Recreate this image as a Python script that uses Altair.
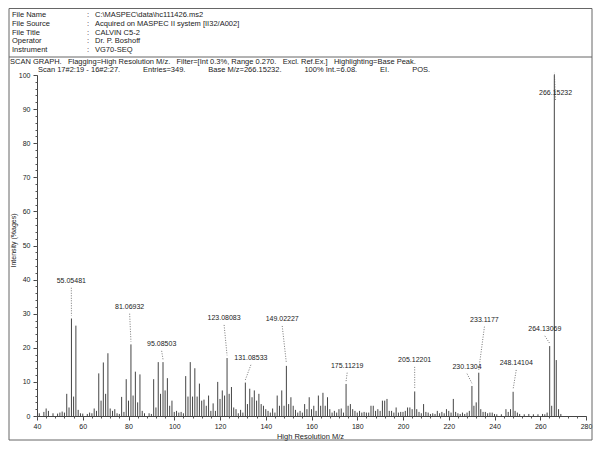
import altair as alt
import pandas as pd

# ---------------- data ----------------
mz = [41, 43, 44, 45, 47, 49, 50, 51, 52, 53, 54, 55.05481, 56, 57, 58, 59, 60, 62, 63, 64,
      65, 66, 67, 68, 69, 70, 71, 72, 73, 74, 75, 76, 77, 78, 79, 80, 81.06932, 82, 83, 84,
      85, 86, 87, 89, 90, 91, 92, 93, 94, 95.08503, 96, 97, 98, 99, 100, 101, 102, 103, 104, 105,
      106, 107, 108, 109, 110, 111, 112, 113, 114, 115, 116, 117, 118, 119, 120, 121, 122, 123.08083, 124, 125,
      126, 127, 128, 129, 130, 131.08533, 132, 133, 134, 135, 136, 137, 138, 139, 140, 141, 142, 143, 144, 145,
      146, 147, 148, 149.02227, 150, 151, 152, 153, 154, 155, 156, 157, 158, 159, 160, 161, 162, 163, 164, 165,
      166, 167, 168, 169, 170, 171, 172, 173, 174, 175.11219, 176, 177, 178, 179, 180, 181, 182, 183, 184, 185,
      186, 187, 188, 189, 190, 191, 192, 193, 194, 195, 196, 197, 198, 199, 200, 201, 202, 203, 204, 205.12201,
      206, 207, 208, 209, 210, 211, 212, 213, 214, 215, 216, 217, 218, 219, 220, 221, 222, 223, 224, 225,
      226, 227, 228, 229, 230.1304, 231, 232, 233.1177, 234, 235, 236, 237, 238, 239, 240, 241, 243, 245, 246, 247,
      248.14104, 249, 250, 251, 253, 255, 257, 259, 261, 262, 263, 264.13069, 265, 266.15232, 267, 268, 269]
intensity = [0.8, 1.2, 2.2, 1.5, 0.8, 0.7, 1.0, 1.3, 1.0, 6.5, 2.5, 28.6, 5.7, 26.5, 1.8, 0.8, 0.7, 0.6, 1.0, 0.8,
             2.2, 1.5, 12.5, 4.5, 15.7, 6.5, 18.4, 2.2, 1.5, 2.0, 0.8, 0.6, 5.6, 1.2, 10.8, 4.5, 21.0, 6.0, 13.0, 4.0,
             12.2, 1.5, 0.8, 0.8, 0.6, 10.8, 2.5, 15.8, 6.5, 15.8, 7.5, 11.1, 3.0, 4.5, 1.2, 1.5, 1.0, 1.2, 0.8, 11.7,
             5.7, 15.8, 5.7, 14.0, 5.7, 9.5, 4.5, 4.8, 3.0, 6.0, 1.5, 3.7, 1.5, 10.0, 5.0, 7.5, 6.0, 17.0, 6.5, 8.5,
             2.5, 2.0, 0.8, 1.8, 1.0, 9.8, 3.5, 8.0, 5.5, 7.5, 4.5, 6.5, 3.5, 3.0, 2.0, 1.5, 1.0, 2.2, 1.0, 6.0,
             3.0, 7.5, 3.0, 14.7, 3.5, 5.5, 3.0, 1.8, 1.0, 1.5, 1.0, 3.5, 2.0, 5.5, 2.0, 3.0, 1.5, 6.0, 3.0, 6.8,
             3.0, 5.5, 2.0, 1.0, 1.5, 1.0, 2.0, 2.2, 1.0, 9.4, 3.0, 3.5, 2.0, 1.5, 1.0, 1.5, 1.0, 1.2, 1.0, 1.0,
             3.0, 3.0, 1.5, 2.0, 1.5, 4.5, 4.5, 5.0, 1.5, 1.5, 1.0, 2.5, 1.0, 1.2, 1.2, 1.5, 2.5, 2.5, 2.0, 7.2,
             2.0, 1.2, 0.8, 3.5, 1.2, 1.0, 0.6, 0.8, 0.6, 1.5, 0.8, 1.2, 0.8, 2.0, 1.5, 1.0, 5.0, 1.2, 0.8, 0.6,
             1.0, 0.6, 1.0, 1.5, 8.8, 3.0, 4.0, 12.7, 2.0, 1.2, 1.2, 0.8, 1.0, 1.0, 0.6, 0.5, 0.5, 2.0, 1.2, 2.0,
             7.1, 1.5, 1.0, 0.6, 0.5, 0.6, 0.5, 0.5, 0.6, 0.5, 1.0, 20.5, 3.0, 100.0, 16.4, 2.0, 0.6]

label_texts = ["55.05481", "81.06932", "95.08503", "123.08083", "131.08533", "149.02227", "175.11219",
               "205.12201", "230.1304", "233.1177", "248.14104", "264.13069", "266.15232"]
label_peak_mz = [55.05481, 81.06932, 95.08503, 123.08083, 131.08533, 149.02227, 175.11219,
                 205.12201, 230.1304, 233.1177, 248.14104, 264.13069, 266.15232]
label_peak_int = [28.6, 21.0, 15.8, 17.0, 9.8, 14.7, 9.4, 7.2, 8.8, 12.7, 7.1, 20.5, 100.0]
label_text_mz = [55.0, 80.5, 94.5, 121.8, 133.5, 147.2, 175.6, 205.1, 228.0, 235.6, 249.5, 262.0, 266.7]
label_text_int = [39.6, 32.0, 21.1, 28.7, 17.0, 28.4, 14.7, 16.4, 14.4, 28.2, 15.5, 25.5, 94.7]

header_keys = ["File Name", "File Source", "File Title", "Operator", "Instrument"]
header_values = ["C:\\MASPEC\\data\\hc111426.ms2", "Acquired on MASPEC II system [II32/A002]",
                 "CALVIN C5-2", "Dr. P. Boshoff", "VG70-SEQ"]
SP = "\u00a0" * 3
scan_graph = ("SCAN GRAPH." + SP + "Flagging=High Resolution M/z." + SP + "Filter=[Int 0.3%, Range 0.270." + SP +
              "Excl. Ref.Ex.]" + SP + "Highlighting=Base Peak.")
SP11 = "\u00a0" * 11
scan_line = ("Scan 17#2:19 - 16#2:27." + SP11 + "Entries=349." + SP11 + "Base M/z=266.15232." + SP11 +
             "100% Int.=6.08." + SP11 + "EI." + SP11 + "POS.")

x_major = list(range(40, 281, 20))
x_minor = list(range(40, 281, 4))
y_major = list(range(0, 101, 10))
y_minor = list(range(0, 101, 2))

# ---------------- chart ----------------
FONT = "Liberation Sans"
TXT = "#222222"
W, H = 549, 341

peaks = pd.DataFrame({"mz": mz, "intensity": intensity})
labels = pd.DataFrame({"text": label_texts, "pmz": label_peak_mz, "pint": label_peak_int,
                       "tmz": label_text_mz, "tint": label_text_int})
labels["lead_top"] = labels["tint"] - 2.0
labels["lead_bot"] = labels["pint"] + 0.8
one = pd.DataFrame({"k": [0]})

xscale = alt.Scale(domain=[40, 280], nice=False, zero=False)
yscale = alt.Scale(domain=[0, 100], nice=False)

peak_layer = alt.Chart(peaks).mark_rule(color="#454545", strokeWidth=1).encode(
    x=alt.X("mz:Q", scale=xscale,
            axis=alt.Axis(values=x_major, title="High Resolution M/z", titleFont=FONT,
                          titleFontSize=7.5, titleFontWeight="normal", titleColor=TXT,
                          titleX=273, titleY=20, titleAnchor="middle", titleAlign="center",
                          titleBaseline="middle",
                          labelFont=FONT, labelFontSize=7, labelColor=TXT, tickSize=4,
                          labelPadding=2, domainColor="#444", tickColor="#444", grid=False,
                          orient="bottom", labelFlush=False)),
    y=alt.Y("intensity:Q", scale=yscale,
            axis=alt.Axis(values=y_major, title="Intensity (%ages)", titleFont=FONT,
                          titleFontSize=7, titleFontWeight="normal", titleColor=TXT,
                          titleX=-24, titleY=165, titleAngle=270, titleAnchor="middle",
                          titleAlign="center", titleBaseline="middle",
                          labelFont=FONT, labelFontSize=7, labelColor=TXT, tickSize=4,
                          labelPadding=3, domainColor="#444", tickColor="#444", grid=False,
                          orient="left", labelFlush=False)),
    y2=alt.datum(0),
)

minor_layer = alt.Chart(peaks).mark_point(opacity=0).encode(
    x=alt.X("mz:Q", scale=xscale,
            axis=alt.Axis(values=x_minor, labels=False, title=None, domain=False, tickSize=2,
                          tickColor="#555", grid=False, orient="bottom")),
    y=alt.Y("intensity:Q", scale=yscale,
            axis=alt.Axis(values=y_minor, labels=False, title=None, domain=False, tickSize=2,
                          tickColor="#555", grid=False, orient="left")),
)

leaders = alt.Chart(labels).mark_rule(color="#555", strokeWidth=0.8, strokeDash=[1, 1.5]).encode(
    x=alt.X("tmz:Q", scale=xscale, axis=None), x2="pmz:Q",
    y=alt.Y("lead_top:Q", scale=yscale, axis=None), y2="lead_bot:Q",
)

label_layer = alt.Chart(labels).mark_text(font=FONT, fontSize=7, color=TXT, baseline="middle").encode(
    x=alt.X("tmz:Q", scale=xscale, axis=None), y=alt.Y("tint:Q", scale=yscale, axis=None), text="text:N",
)

layers = [peak_layer, minor_layer, leaders, label_layer]

# frame and separators
frame = alt.Chart(one).mark_rect(filled=False, stroke="#666", strokeWidth=1).encode(
    x=alt.value(-28), x2=alt.value(555), y=alt.value(-66.5), y2=alt.value(365))
sep = alt.Chart(one).mark_rule(color="#666", strokeWidth=1).encode(
    x=alt.value(-28), x2=alt.value(555), y=alt.value(-18))
layers += [frame, sep]

row_y = [-60, -51, -42.5, -34, -25.5]
for k, v, yy in zip(header_keys, header_values, row_y):
    layers.append(alt.Chart(one).mark_text(text=k, font=FONT, fontSize=7.5, color=TXT, align="left",
                                           baseline="middle").encode(x=alt.value(-25), y=alt.value(yy)))
    layers.append(alt.Chart(one).mark_text(text=":", font=FONT, fontSize=7.5, color=TXT, align="left",
                                           baseline="middle").encode(x=alt.value(50), y=alt.value(yy)))
    layers.append(alt.Chart(one).mark_text(text=v, font=FONT, fontSize=7.5, color=TXT, align="left",
                                           baseline="middle").encode(x=alt.value(58), y=alt.value(yy)))

layers.append(alt.Chart(one).mark_text(text=scan_graph, font=FONT, fontSize=7.5, color=TXT, align="left",
                                       baseline="middle").encode(x=alt.value(-27), y=alt.value(-13)))
layers.append(alt.Chart(one).mark_text(text=scan_line, font=FONT, fontSize=7.5, color=TXT, align="left",
                                       baseline="middle").encode(x=alt.value(1), y=alt.value(-5)))

chart = alt.layer(*layers).resolve_axis(x="independent", y="independent").properties(
    width=W, height=H,
    autosize=alt.AutoSizeParams(type="none"),
    padding={"left": 29, "top": 67, "right": 7, "bottom": 25},
    background="white",
).configure_view(stroke=None)

chart.save("out.html", embed_options={"renderer": "svg", "actions": False})
